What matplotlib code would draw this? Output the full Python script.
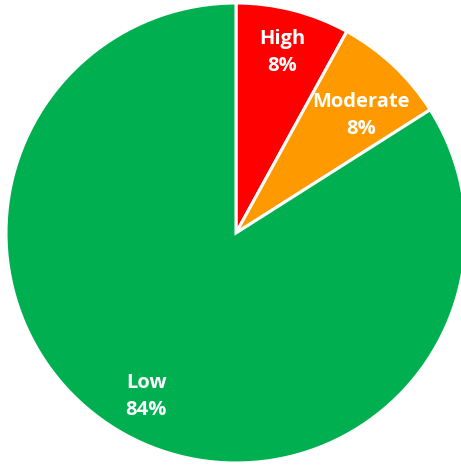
import matplotlib
matplotlib.use('Agg')
import matplotlib.pyplot as plt

labels = ['High', 'Moderate', 'Low']
values = [8, 8, 84]
colors = ['#FF0000', '#FF9900', '#00B050']

fig = plt.figure(figsize=(4.61, 4.65), dpi=100)
ax = fig.add_axes([6 / 461, 2 / 465, 460 / 461, 460 / 465])

wedges, texts = ax.pie(
    values, colors=colors, startangle=90, counterclock=False,
    labels=[f'{l}\n{v}%' for l, v in zip(labels, values)],
    labeldistance=0.81,
    wedgeprops=dict(edgecolor='white', linewidth=2.2),
    textprops=dict(color='white', fontweight='bold', fontsize=14.5,
                   family='Open Sans', ha='center', va='center',
                   linespacing=1.5),
    radius=1.0)

for t in texts:
    t.set_horizontalalignment('center')
# Moderate label sits a bit lower in the original
x, y = texts[1].get_position()
texts[1].set_position((x - 0.01, y - 0.08))

ax.set_xlim(-1, 1)
ax.set_ylim(-1, 1)
ax.set_aspect('equal')
ax.axis('off')

fig.savefig('out.png', dpi=100)
